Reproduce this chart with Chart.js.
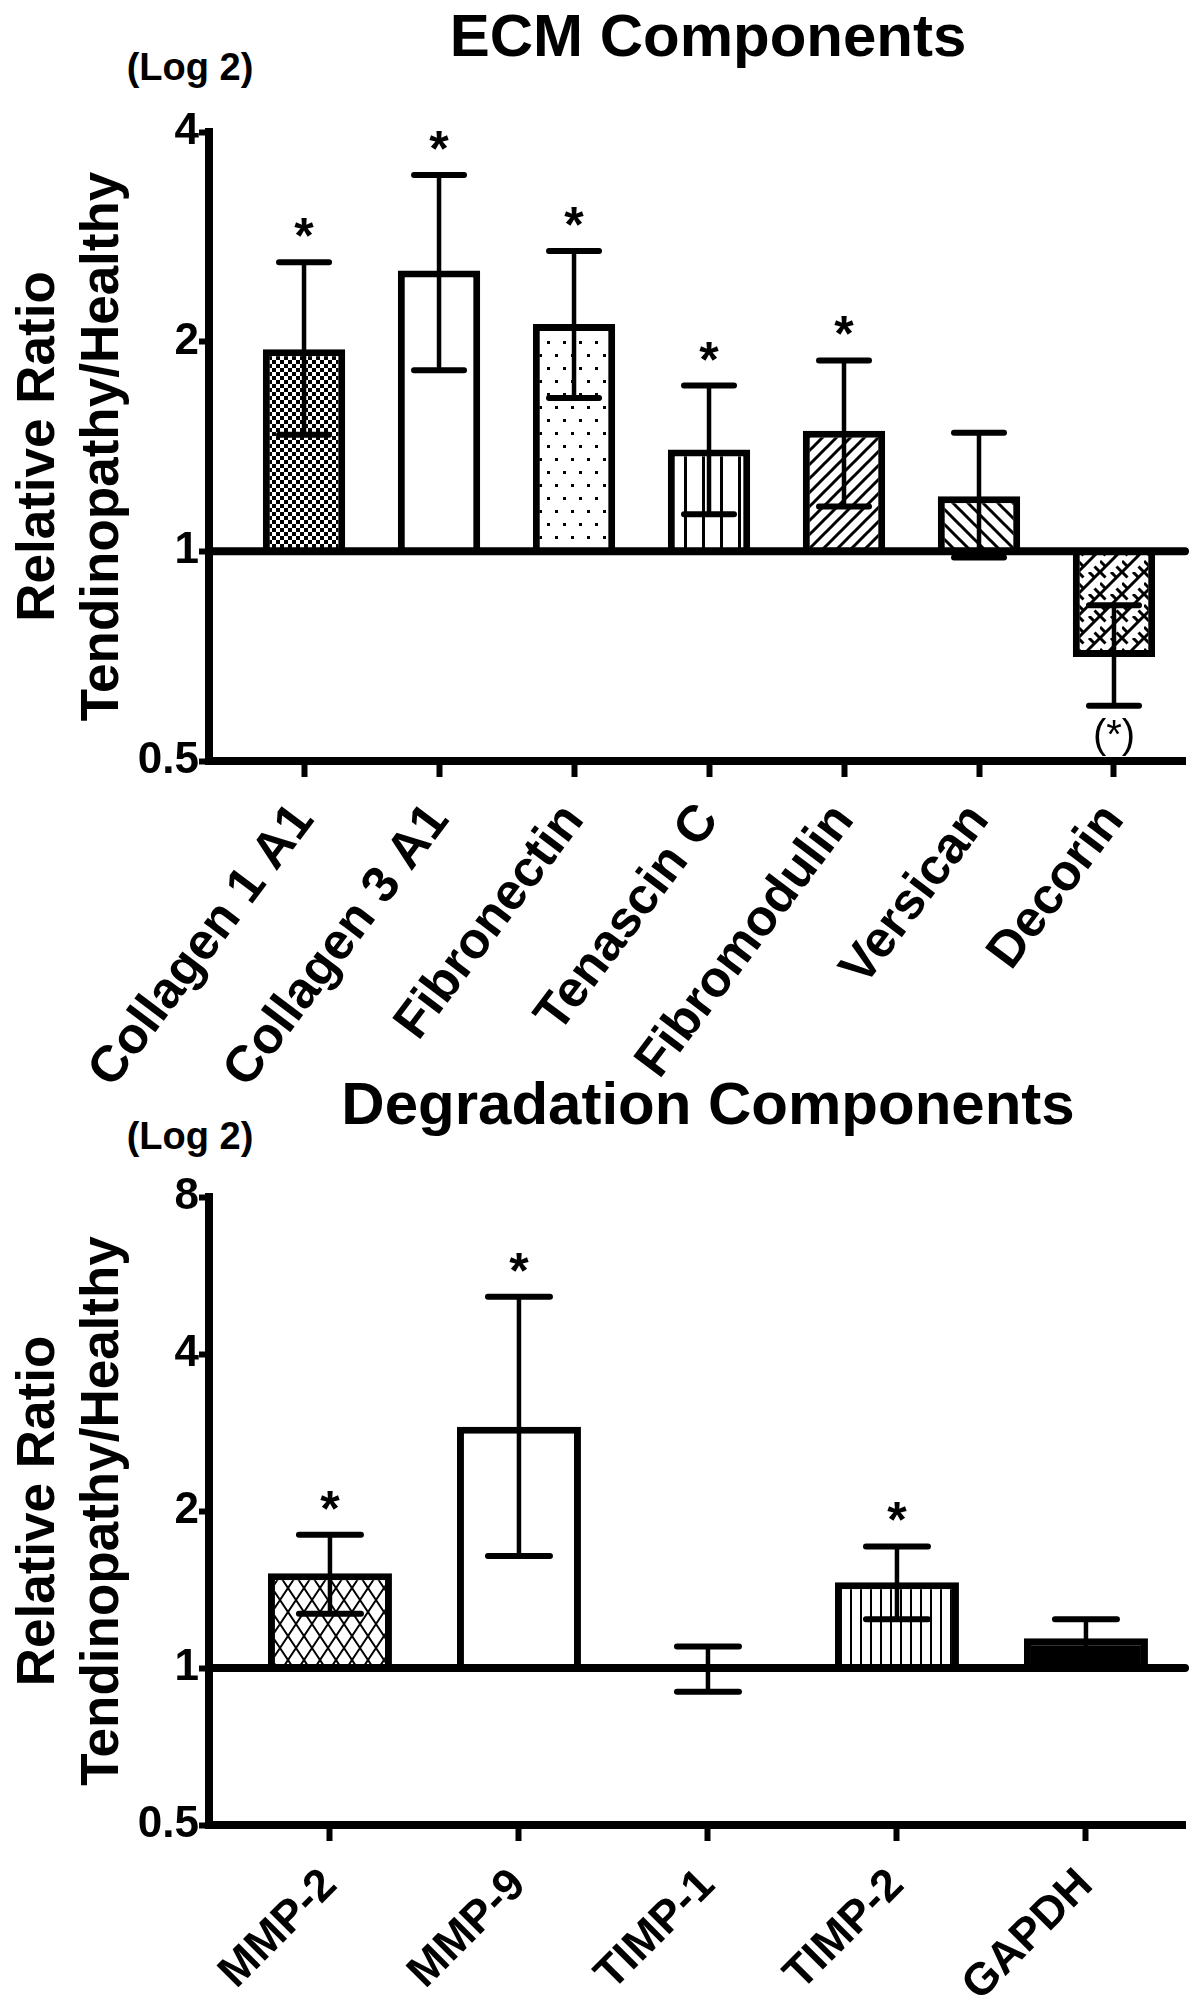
<!DOCTYPE html>
<html>
<head>
<meta charset="utf-8">
<script src="https://cdn.jsdelivr.net/npm/chart.js@4.4.1/dist/chart.umd.min.js"></script>
<style>
  body { margin: 0; background: #fff; width: 1200px; height: 2009px; position: relative; overflow: hidden; font-family: 'Liberation Sans', Arial, sans-serif; }
  canvas { position: absolute; left: 0; }
  .lbl { position: absolute; font-weight: bold; color: #000; white-space: nowrap; transform: translate(-50%, -50%); line-height: 1; }
</style>
</head>
<body>
<div class="lbl" style="left:708px; top:36px; font-size:60px">ECM Components</div>
<div class="lbl" style="left:190px; top:67px; font-size:38px">(Log 2)</div>
<canvas id="ecm-chart" width="1200" height="1110" style="top:0"></canvas>
<div class="lbl" style="left:708px; top:1104px; font-size:60px">Degradation Components</div>
<div class="lbl" style="left:190px; top:1136px; font-size:38px">(Log 2)</div>
<canvas id="deg-chart" width="1200" height="949" style="top:1060px"></canvas>
<script>
// ECM components (ratio, log2 axis)
var ecmLabels = ['Collagen 1 A1', 'Collagen 3 A1', 'Fibronectin', 'Tenascin C', 'Fibromodulin', 'Versican', 'Decorin'];
var ecmMean  = [1.95, 2.53, 2.12, 1.40, 1.49, 1.20, 0.705];
var ecmUpper = [2.60, 3.47, 2.70, 1.73, 1.88, 1.48, 0.837];
var ecmLower = [1.47, 1.82, 1.66, 1.13, 1.16, 0.98, 0.60];
var ecmStars = ['*', '*', '*', '*', '*', '', '(*)'];
var ecmTicks = [0.5, 1, 2, 4];

// degradation components
var degLabels = ['MMP-2', 'MMP-9', 'TIMP-1', 'TIMP-2', 'GAPDH'];
var degMean  = [1.52, 2.90, 0.99, 1.46, 1.14];
var degUpper = [1.80, 5.15, 1.10, 1.71, 1.24];
var degLower = [1.27, 1.64, 0.90, 1.24, 1.04];
var degStars = ['*', '*', '', '*', ''];
var degTicks = [0.5, 1, 2, 4, 8];

Chart.defaults.font.family = "'Liberation Sans', Arial, sans-serif";
Chart.defaults.font.weight = 'bold';
Chart.defaults.color = '#000';

// small tiles for the bar hatching
function makePattern(w, h, draw) {
  var c = document.createElement('canvas');
  c.width = w; c.height = h;
  var g = c.getContext('2d');
  g.fillStyle = '#fff'; g.fillRect(0, 0, w, h);
  g.fillStyle = '#000'; g.strokeStyle = '#000';
  draw(g, w, h);
  return g.createPattern(c, 'repeat');
}
function lines(g, width, segs) {
  g.lineWidth = width;
  g.beginPath();
  segs.forEach(function (s) { g.moveTo(s[0], s[1]); g.lineTo(s[2], s[3]); });
  g.stroke();
}

var checker = makePattern(8, 8, function (g) { g.fillRect(0, 0, 4, 4); g.fillRect(4, 4, 4, 4); });
var dots = makePattern(16, 26, function (g) { g.fillRect(3, 3, 3, 3); g.fillRect(11, 16, 3, 3); });
var vlinesWide = makePattern(18, 4, function (g) { g.fillRect(0, 0, 3, 4); });
var vlinesTight = makePattern(10, 4, function (g) { g.fillRect(0, 0, 2, 4); });
var hatchUp = makePattern(14, 14, function (g) {
  lines(g, 3, [[-7, 7, 7, -7], [0, 14, 14, 0], [7, 21, 21, 7]]);
});
var hatchDown = makePattern(15, 15, function (g) {
  lines(g, 3, [[-7.5, 7.5, 7.5, 22.5], [0, 0, 15, 15], [7.5, -7.5, 22.5, 7.5]]);
});
var bricks = makePattern(22, 22, function (g) {
  lines(g, 3, [[-11, 11, 11, -11], [0, 22, 22, 0], [11, 33, 33, 11]]);
  lines(g, 3, [[0, 0, 5.5, 5.5], [16.5, 16.5, 22, 22], [11, 0, 16.5, 5.5], [0, 11, 5.5, 16.5]]);
});
var zigzag = makePattern(16, 24, function (g) {
  lines(g, 2, [[0, 0, 8, 12], [8, 12, 16, 0], [0, 24, 8, 12], [8, 12, 16, 24]]);
});

var ecmFills = [checker, '#fff', dots, vlinesWide, hatchUp, hatchDown, bricks];
var degFills = [zigzag, '#fff', '#fff', vlinesTight, '#000'];

// line at ratio 1, error bars and significance marks
var errorBarPlugin = {
  id: 'errorBars',
  afterDatasetsDraw: function (chart, args, opts) {
    var ctx = chart.ctx, y = chart.scales.y, area = chart.chartArea;
    var meta = chart.getDatasetMeta(0);
    ctx.save();
    ctx.strokeStyle = '#000';
    ctx.fillStyle = '#000';
    ctx.lineCap = 'round';
    var one = y.getPixelForValue(1);
    ctx.lineWidth = 8;
    ctx.beginPath(); ctx.moveTo(area.left, one); ctx.lineTo(area.right, one); ctx.stroke();
    meta.data.forEach(function (bar, i) {
      var hi = y.getPixelForValue(opts.upper[i]);
      var lo = y.getPixelForValue(opts.lower[i]);
      var half = opts.capWidth / 2;
      ctx.lineWidth = 4.5;
      ctx.beginPath(); ctx.moveTo(bar.x, hi); ctx.lineTo(bar.x, lo); ctx.stroke();
      ctx.lineWidth = 6;
      ctx.beginPath();
      ctx.moveTo(bar.x - half, hi); ctx.lineTo(bar.x + half, hi);
      ctx.moveTo(bar.x - half, lo); ctx.lineTo(bar.x + half, lo);
      ctx.stroke();
      var star = opts.stars[i];
      if (star) {
        ctx.textAlign = 'center';
        if (opts.mean[i] >= 1) {
          ctx.font = "bold 50px 'Liberation Sans', Arial, sans-serif";
          ctx.textBaseline = 'alphabetic';
          ctx.fillText(star, bar.x, hi - 9);
        } else {
          ctx.font = "40px 'Liberation Sans', Arial, sans-serif";
          ctx.textBaseline = 'middle';
          ctx.fillText(star, bar.x, lo + 31);
        }
      }
    });
    ctx.restore();
  }
};

function barChart(id, labels, mean, upper, lower, stars, fills, ticks, cfg) {
  var canvas = document.getElementById(id);
  var tickLine = { display: true, drawOnChartArea: false, offset: false, color: '#000', tickColor: '#000', tickWidth: 6 };
  return new Chart(canvas, {
    type: 'bar',
    data: {
      datasets: [{
        data: mean.map(function (v, i) { return { x: i, y: v }; }),
        base: 1,
        backgroundColor: fills,
        borderColor: '#000',
        borderWidth: 7,
        borderSkipped: 'start',
        barPercentage: cfg.barPct,
        categoryPercentage: 1
      }]
    },
    options: {
      responsive: false,
      animation: false,
      devicePixelRatio: 1,
      layout: { padding: { top: cfg.area.top, right: canvas.width - cfg.area.right, left: 0, bottom: 0 } },
      plugins: {
        legend: { display: false },
        tooltip: { enabled: false },
        errorBars: { mean: mean, upper: upper, lower: lower, stars: stars, capWidth: cfg.capWidth }
      },
      scales: {
        x: {
          type: 'linear',
          offset: false,
          min: cfg.xMin,
          max: cfg.xMax,
          afterBuildTicks: function (s) { s.ticks = labels.map(function (l, i) { return { value: i }; }); },
          ticks: {
            autoSkip: false, minRotation: cfg.rotation, maxRotation: cfg.rotation, padding: cfg.labelPad,
            font: { size: cfg.labelSize, weight: 'bold' },
            callback: function (v) { return labels[v]; }
          },
          grid: Object.assign({ tickLength: 16 }, tickLine),
          border: { display: true, color: '#000', width: 8 },
          afterFit: function (s) { s.height = canvas.height - cfg.area.bottom; }
        },
        y: {
          type: 'logarithmic',
          min: 0.5,
          max: ticks[ticks.length - 1],
          afterBuildTicks: function (s) { s.ticks = ticks.map(function (v) { return { value: v }; }); },
          ticks: {
            padding: 0,
            font: { size: 44, weight: 'bold' },
            callback: function (v) { return String(v); }
          },
          grid: Object.assign({ tickLength: 10 }, tickLine),
          border: { display: true, color: '#000', width: 8 },
          title: {
            display: true,
            text: ['Relative Ratio', 'Tendinopathy/Healthy'],
            font: { size: 53, weight: 'bold' },
            padding: { top: 8, bottom: 0 }
          },
          afterFit: function (s) { s.width = cfg.area.left; }
        }
      }
    },
    plugins: [errorBarPlugin]
  });
}

barChart('ecm-chart', ecmLabels, ecmMean, ecmUpper, ecmLower, ecmStars, ecmFills, ecmTicks, {
  area: { left: 209, right: 1185, top: 132, bottom: 761 },
  xMin: -0.704, xMax: 6.526, barPct: 0.61, capWidth: 50,
  rotation: 53, labelSize: 51, labelPad: 16
});

barChart('deg-chart', degLabels, degMean, degUpper, degLower, degStars, degFills, degTicks, {
  area: { left: 209, right: 1185, top: 137, bottom: 765 },
  xMin: -0.64, xMax: 4.524, barPct: 0.656, capWidth: 62,
  rotation: 45, labelSize: 45, labelPad: 18
});
</script>
</body>
</html>
